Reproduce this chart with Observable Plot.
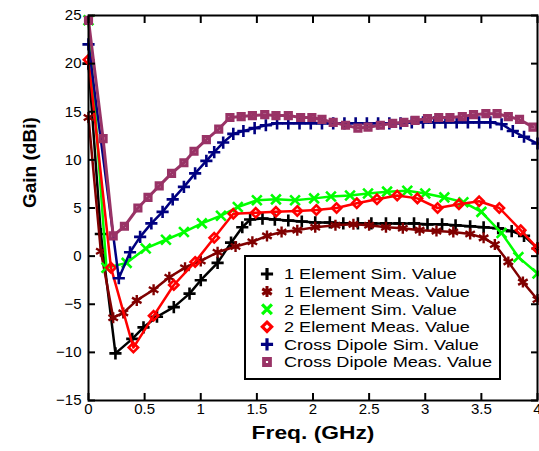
<!DOCTYPE html>
<html><head><meta charset="utf-8">
<script src="https://cdn.jsdelivr.net/npm/d3@7"></script>
<script src="https://cdn.jsdelivr.net/npm/@observablehq/plot@0.6"></script>
<style>
body{margin:0;background:#fff}
svg{display:block}
</style>
</head><body><div id="chart"></div>
<script>
const xTicks = [0, 0.5, 1, 1.5, 2, 2.5, 3, 3.5, 4];
const xTickLabels = ["0", "0.5", "1", "1.5", "2", "2.5", "3", "3.5", "4"];
const yTicks = [-15, -10, -5, 0, 5, 10, 15, 20, 25];
const xTitle = "Freq. (GHz)";
const yTitle = "Gain (dBi)";

const seriesNames = ["1 Element Sim. Value", "1 Element Meas. Value", "2 Element Sim. Value",
  "2 Element Meas. Value", "Cross Dipole Sim. Value", "Cross Dipole Meas. Value"];
const seriesColors = ["#000000", "#800000", "#00ff00", "#ff0000", "#000080", "#993366"];
const seriesSymbols = ["plus", "asterisk", "times", "diamond2", "plus", "square2"];

const f1Sim = [0, 0.11, 0.24, 0.39, 0.49, 0.61, 0.76, 0.90, 1.0, 1.15, 1.27, 1.37, 1.44, 1.55, 1.66, 1.78, 1.9, 2.02, 2.15, 2.27, 2.4, 2.52, 2.65, 2.77, 2.9, 3.02, 3.15, 3.27, 3.4, 3.52, 3.65, 3.77, 3.88, 4.0];
const g1Sim = [20, 2.3, -10.1, -8.6, -7.4, -6.3, -5.3, -3.9, -2.5, -0.7, 1.4, 3.0, 3.8, 3.9, 3.8, 3.7, 3.6, 3.5, 3.5, 3.4, 3.4, 3.4, 3.4, 3.4, 3.4, 3.3, 3.3, 3.2, 3.1, 3.0, 2.9, 2.6, 2.1, 0.8];

const f1Meas = [0, 0.11, 0.22, 0.31, 0.43, 0.58, 0.72, 0.86, 1.0, 1.15, 1.31, 1.46, 1.59, 1.72, 1.86, 2.02, 2.2, 2.36, 2.5, 2.65, 2.8, 2.95, 3.1, 3.25, 3.4, 3.52, 3.62, 3.74, 3.87, 4.0];
const g1Meas = [14.4, 0.5, -6.4, -5.9, -4.6, -3.5, -2.2, -1.2, -0.5, 0.4, 1.0, 1.5, 2.1, 2.5, 2.7, 3.0, 3.2, 3.3, 3.2, 3.0, 2.9, 2.7, 2.6, 2.5, 2.3, 1.9, 1.2, -0.6, -2.7, -4.5];

const f2Sim = [0, 0.16, 0.34, 0.51, 0.69, 0.85, 1.01, 1.18, 1.33, 1.5, 1.67, 1.84, 2.01, 2.16, 2.33, 2.49, 2.66, 2.84, 3.0, 3.17, 3.34, 3.5, 3.68, 3.83, 4.0];
const g2Sim = [24.5, -1.2, -0.7, 0.8, 1.7, 2.5, 3.4, 4.2, 5.1, 5.8, 5.9, 5.8, 6.0, 6.2, 6.3, 6.5, 6.7, 6.8, 6.5, 6.1, 5.6, 4.6, 2.4, -0.1, -1.8];

const f2Meas = [0, 0.2, 0.40, 0.58, 0.76, 0.95, 1.12, 1.29, 1.49, 1.67, 1.86, 2.03, 2.21, 2.39, 2.57, 2.75, 2.93, 3.11, 3.3, 3.48, 3.66, 3.85, 4.0];
const g2Meas = [20.4, -1.2, -9.5, -6.2, -3.0, -0.6, 1.9, 4.4, 4.5, 4.6, 4.7, 4.8, 5.0, 5.5, 5.9, 6.3, 6.0, 5.0, 5.4, 5.7, 5.0, 2.7, 0.8];

const fCdSim = [0, 0.27, 0.37, 0.46, 0.56, 0.66, 0.75, 0.85, 0.95, 1.05, 1.12, 1.2, 1.29, 1.38, 1.48, 1.58, 1.68, 1.78, 1.88, 1.98, 2.08, 2.18, 2.28, 2.38, 2.48, 2.58, 2.68, 2.78, 2.88, 2.98, 3.08, 3.18, 3.28, 3.38, 3.48, 3.58, 3.68, 3.78, 3.88, 4.0];
const gCdSim = [22, -2.3, 0.4, 2.0, 3.4, 4.6, 5.9, 7.2, 8.6, 9.9, 10.8, 11.8, 12.7, 13.0, 13.3, 13.6, 13.8, 13.8, 13.8, 13.8, 13.8, 13.8, 13.8, 13.8, 13.8, 13.8, 13.8, 13.8, 13.9, 13.9, 13.9, 13.9, 13.9, 13.9, 13.9, 13.9, 13.7, 13.0, 12.4, 11.7];

const fCdMeas = [0, 0.13, 0.22, 0.32, 0.44, 0.53, 0.63, 0.74, 0.85, 0.94, 1.05, 1.16, 1.26, 1.36, 1.46, 1.57, 1.67, 1.78, 1.89, 1.99, 2.08, 2.18, 2.29, 2.40, 2.49, 2.60, 2.71, 2.81, 2.91, 3.02, 3.12, 3.22, 3.33, 3.43, 3.54, 3.64, 3.74, 3.84, 3.96];
const gCdMeas = [24.5, 12.2, 2.1, 3.1, 5.0, 6.1, 7.3, 8.6, 9.7, 10.9, 12.1, 13.2, 14.4, 14.5, 14.6, 14.7, 14.6, 14.6, 14.4, 14.4, 14.2, 13.9, 13.6, 13.3, 13.4, 13.6, 13.8, 13.9, 14.1, 14.3, 14.4, 14.4, 14.5, 14.7, 14.8, 14.8, 14.5, 14.2, 13.4];

const seriesF = [f1Sim, f1Meas, f2Sim, f2Meas, fCdSim, fCdMeas];
const seriesG = [g1Sim, g1Meas, g2Sim, g2Meas, gCdSim, gCdMeas];

// styling per series (not data)
const lineWidths = [2.5, 2.5, 2.5, 2.5, 2.5, 3];
const markR = [4, 5.2, 4.5, 4.2, 4, 3.8];
const markW = [2.6, 2.4, 2.6, 2.6, 2.6, 3.2];

const tables = seriesNames.map((name, i) => seriesF[i].map((f, j) => ({series: name, f, g: seriesG[i][j]})));

const marks = [];
tables.forEach((t, i) => {
  marks.push(Plot.line(t, {x: "f", y: "g", stroke: seriesColors[i], strokeWidth: lineWidths[i]}));
  marks.push(Plot.dot(t, {x: "f", y: "g", symbol: () => seriesSymbols[i], stroke: seriesColors[i], fill: "none", r: markR[i], strokeWidth: markW[i]}));
});

const chart = Plot.plot({
  width: 539,
  height: 451,
  marginLeft: 88,
  marginRight: 2,
  marginTop: 15,
  marginBottom: 51,
  style: {fontFamily: "'Liberation Sans', Arial, sans-serif", fontSize: "15px", color: "black", background: "white"},
  x: {domain: [0, 4], label: null},
  y: {domain: [-15, 25], label: null},
  symbol: {type: "identity"},
  marks: [
    ...marks,
    Plot.axisX({ticks: xTicks, tickSize: -7, tickPadding: 10, strokeWidth: 2, fontSize: 15, tickFormat: (d) => xTickLabels[xTicks.indexOf(d)], label: null}),
    Plot.axisX({anchor: "top", ticks: xTicks, tickSize: -7, strokeWidth: 2, tickFormat: () => "", label: null}),
    Plot.axisY({ticks: yTicks, tickSize: -7, tickPadding: 14, strokeWidth: 2, fontSize: 15, label: null}),
    Plot.axisY({anchor: "right", ticks: yTicks, tickSize: -7, strokeWidth: 2, tickFormat: () => "", label: null}),
    Plot.frame({stroke: "black", strokeWidth: 2}),
    Plot.text([xTitle], {frameAnchor: "bottom", dy: 38, fontSize: 19, fontWeight: "bold", text: (d) => d, className: "xtitle"}),
    Plot.text([yTitle], {frameAnchor: "left", dx: -59, rotate: -90, fontSize: 19, fontWeight: "bold", text: (d) => d})
  ]
});
document.getElementById("chart").appendChild(chart);

const svg = d3.select(chart);
svg.selectAll(".xtitle text").each(function () {
  const w = this.getComputedTextLength();
  d3.select(this).attr("textLength", w * 1.2).attr("lengthAdjust", "spacingAndGlyphs");
});

// legend drawn inside the plot area
const lg = svg.append("g").attr("font-family", "'Liberation Sans', Arial, sans-serif").attr("font-size", 15).attr("text-anchor", "start");
lg.append("rect").attr("x", 245).attr("y", 256).attr("width", 255).attr("height", 123)
  .attr("fill", "white").attr("stroke", "black").attr("stroke-width", 2);
const symMap = {plus: d3.symbolPlus, asterisk: d3.symbolAsterisk, times: d3.symbolTimes, diamond2: d3.symbolDiamond2, square2: d3.symbolSquare2};
const texts = [];
seriesNames.forEach((name, i) => {
  const cy = 274 + i * 17.6;
  lg.append("path")
    .attr("d", d3.symbol().type(symMap[seriesSymbols[i]]).size(markR[i] * markR[i] * Math.PI)())
    .attr("transform", `translate(267,${cy})`)
    .attr("fill", "none").attr("stroke", seriesColors[i]).attr("stroke-width", markW[i] + 0.6);
  const t = lg.append("text").attr("x", 284).attr("y", cy).attr("dy", "0.36em").attr("fill", "black").attr("text-anchor", "start").text(name);
  texts.push(t);
});
const maxW = d3.max(texts, (t) => t.node().getComputedTextLength());
const k = 208 / maxW;
texts.forEach((t) => t.attr("textLength", t.node().getComputedTextLength() * k).attr("lengthAdjust", "spacingAndGlyphs"));
</script>
</body></html>
